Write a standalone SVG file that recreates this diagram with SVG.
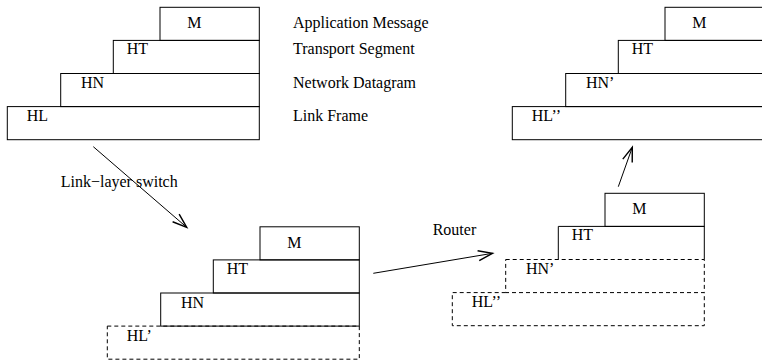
<svg xmlns="http://www.w3.org/2000/svg" width="762" height="360" viewBox="0 0 762 360">
<style>
.box{fill:none;stroke:#000;stroke-width:1}
.dash{fill:none;stroke:#000;stroke-width:1;stroke-dasharray:4 3}
.lbl{font-family:"Liberation Serif","Times New Roman",serif;font-size:16px;fill:#000}
.conn{fill:none;stroke:#000;stroke-width:1}
</style>
<defs>
<marker id="arr" markerUnits="userSpaceOnUse" markerWidth="20" markerHeight="20" refX="0" refY="0" viewBox="-12 -6 14 12" orient="auto" overflow="visible">
<path d="M-10,-3.5 L0,0 L-10,3.5" fill="none" stroke="#000" stroke-width="1"/>
</marker>
</defs>
<rect width="762" height="360" fill="#fff"/>

<g id="stack-source">
<rect class="box" x="160" y="7.3" width="99.3" height="33.1"/>
<rect class="box" x="113.3" y="40.4" width="146" height="33.1"/>
<rect class="box" x="60.7" y="73.5" width="198.6" height="33.1"/>
<rect class="box" x="7.3" y="106.6" width="252" height="33.1"/>
<text class="lbl" x="187.3" y="28.3">M</text>
<text class="lbl" x="126.7" y="54.3">HT</text>
<text class="lbl" x="81" y="88.3">HN</text>
<text class="lbl" x="26.7" y="121.4">HL</text>
</g>

<g id="layer-names">
<text class="lbl" x="293" y="28.3">Application Message</text>
<text class="lbl" x="293" y="53.5">Transport Segment</text>
<text class="lbl" x="293" y="88.3">Network Datagram</text>
<text class="lbl" x="293" y="120.5">Link Frame</text>
</g>

<g id="stack-dest" transform="translate(505,0)">
<rect class="box" x="160" y="7.3" width="99.3" height="33.1"/>
<rect class="box" x="113.3" y="40.4" width="146" height="33.1"/>
<rect class="box" x="60.7" y="73.5" width="198.6" height="33.1"/>
<rect class="box" x="7.3" y="106.6" width="252" height="33.1"/>
<text class="lbl" x="187.3" y="28.3">M</text>
<text class="lbl" x="126.7" y="54.3">HT</text>
<text class="lbl" x="81" y="88.3">HN’</text>
<text class="lbl" x="26.7" y="121.4">HL’’</text>
</g>

<g id="stack-switch" transform="translate(100,219.5)">
<rect class="dash" x="7.3" y="106.6" width="252" height="33.1"/>
<rect class="box" x="160" y="7.3" width="99.3" height="33.1"/>
<rect class="box" x="113.3" y="40.4" width="146" height="33.1"/>
<rect class="box" x="60.7" y="73.5" width="198.6" height="33.1"/>
<text class="lbl" x="187.3" y="28.3">M</text>
<text class="lbl" x="126.7" y="54.3">HT</text>
<text class="lbl" x="81" y="88.3">HN</text>
<text class="lbl" x="26.7" y="121.4">HL’</text>
</g>

<g id="stack-router" transform="translate(445,186)">
<rect class="box" x="160" y="7.3" width="99.3" height="33.1"/>
<path class="box" d="M113.3,73.5 V40.4 H259.3 V73.5"/>
<rect class="dash" x="60.7" y="73.5" width="198.6" height="33.1"/>
<path class="dash" d="M60.7,106.6 H7.3 V139.7 H259.3 V106.6"/>
<text class="lbl" x="187.3" y="28.3">M</text>
<text class="lbl" x="126.7" y="54.3">HT</text>
<text class="lbl" x="81" y="88.3">HN’</text>
<text class="lbl" x="26.7" y="121.4">HL’’</text>
</g>

<g id="connectors">
<line class="conn" x1="93.3" y1="146.7" x2="186.7" y2="227.3" marker-end="url(#arr)"/>
<line class="conn" x1="373.3" y1="273.3" x2="492.5" y2="253.3" marker-end="url(#arr)"/>
<line class="conn" x1="618.3" y1="186.7" x2="632.3" y2="147.3" marker-end="url(#arr)"/>
<text class="lbl" x="60.7" y="186.7">Link−layer switch</text>
<text class="lbl" x="432.7" y="235">Router</text>
</g>
</svg>
